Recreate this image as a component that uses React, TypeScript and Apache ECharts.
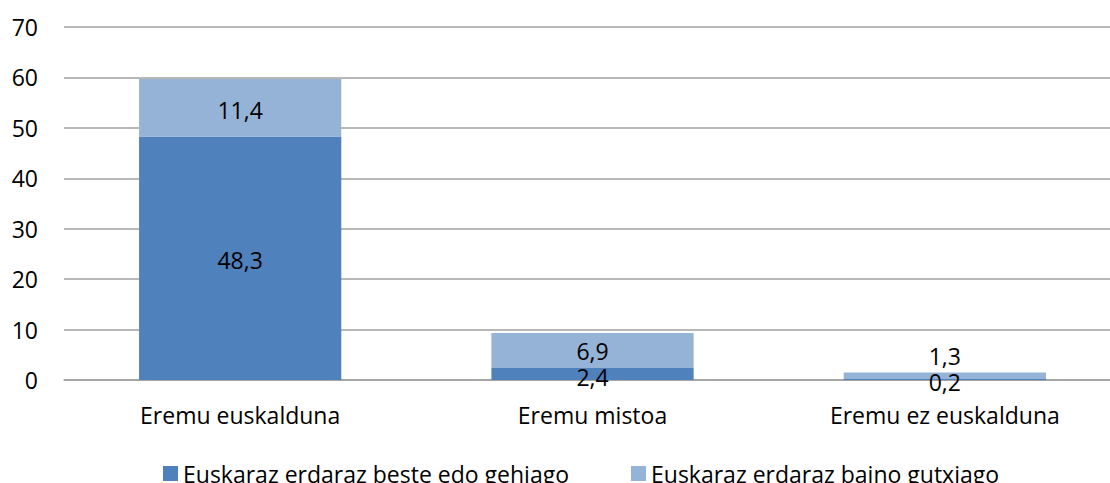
import React, { useEffect, useRef } from "react";
import * as echarts from "echarts";

const categories = ["Eremu euskalduna", "Eremu mistoa", "Eremu ez euskalduna"];
const seriesNames = ["Euskaraz erdaraz beste edo gehiago", "Euskaraz erdaraz baino gutxiago"];
const moreValues = [48.3, 2.4, 0.2];
const lessValues = [11.4, 6.9, 1.3];
const yTicks = { min: 0, max: 70, interval: 10 };

// label offsets (layout only)
const moreLabelOffsets = [[0, 2], [0, 3], [0, 3]];
const lessLabelOffsets = [[0, 2], [0, 1], [0, -20]];

const FONT = "Open Sans";
const FS = 23;

export default function App() {
  const ref = useRef<HTMLDivElement>(null);
  useEffect(() => {
    if (!ref.current) return;
    const chart = echarts.init(ref.current, undefined, { renderer: "svg" });
    const fmt = (p: any) => String(p.value).replace(".", ",");
    const labelBase = {
      show: true,
      position: "inside",
      color: "#000",
      fontFamily: FONT,
      fontSize: FS,
      lineHeight: 18,
      formatter: fmt,
    };
    chart.setOption({
      animation: false,
      textStyle: { fontFamily: FONT },
      grid: { left: 64, top: 27, right: 9, bottom: 103, containLabel: false },
      legend: {
        data: seriesNames,
        left: 158,
        top: 457,
        itemWidth: 15,
        itemHeight: 15,
        itemGap: 62,
        icon: "rect",
        textStyle: { color: "#000", fontFamily: FONT, fontSize: FS },
      },
      xAxis: {
        type: "category",
        data: categories,
        axisLine: { show: true, lineStyle: { color: "#A0A0A0", width: 1.5 } },
        axisTick: { show: false },
        axisLabel: { color: "#000", fontFamily: FONT, fontSize: FS, margin: 23 },
      },
      yAxis: {
        type: "value",
        min: yTicks.min,
        max: yTicks.max,
        interval: yTicks.interval,
        axisLine: { show: false },
        axisTick: { show: false },
        axisLabel: { color: "#000", fontFamily: FONT, fontSize: FS, margin: 26 },
        splitLine: { lineStyle: { color: "#A0A0A0", width: 1.5 } },
      },
      series: [
        {
          name: seriesNames[0],
          type: "bar",
          stack: "total",
          barWidth: "57.4%",
          itemStyle: { color: "#4F81BD" },
          label: labelBase,
          data: moreValues.map((v, i) => ({ value: v, label: { offset: moreLabelOffsets[i] } })),
        },
        {
          name: seriesNames[1],
          type: "bar",
          stack: "total",
          barWidth: "57.4%",
          itemStyle: { color: "#95B3D7" },
          label: labelBase,
          data: lessValues.map((v, i) => ({ value: v, label: { offset: lessLabelOffsets[i] } })),
        },
      ],
    });
    return () => chart.dispose();
  }, []);
  return (
    <div
      style={{ position: "fixed", left: 0, top: 0, width: 1110, height: 483, overflow: "hidden", background: "#fff" }}
    >
      <div ref={ref} style={{ width: 1130, height: 483 }} />
    </div>
  );
}
